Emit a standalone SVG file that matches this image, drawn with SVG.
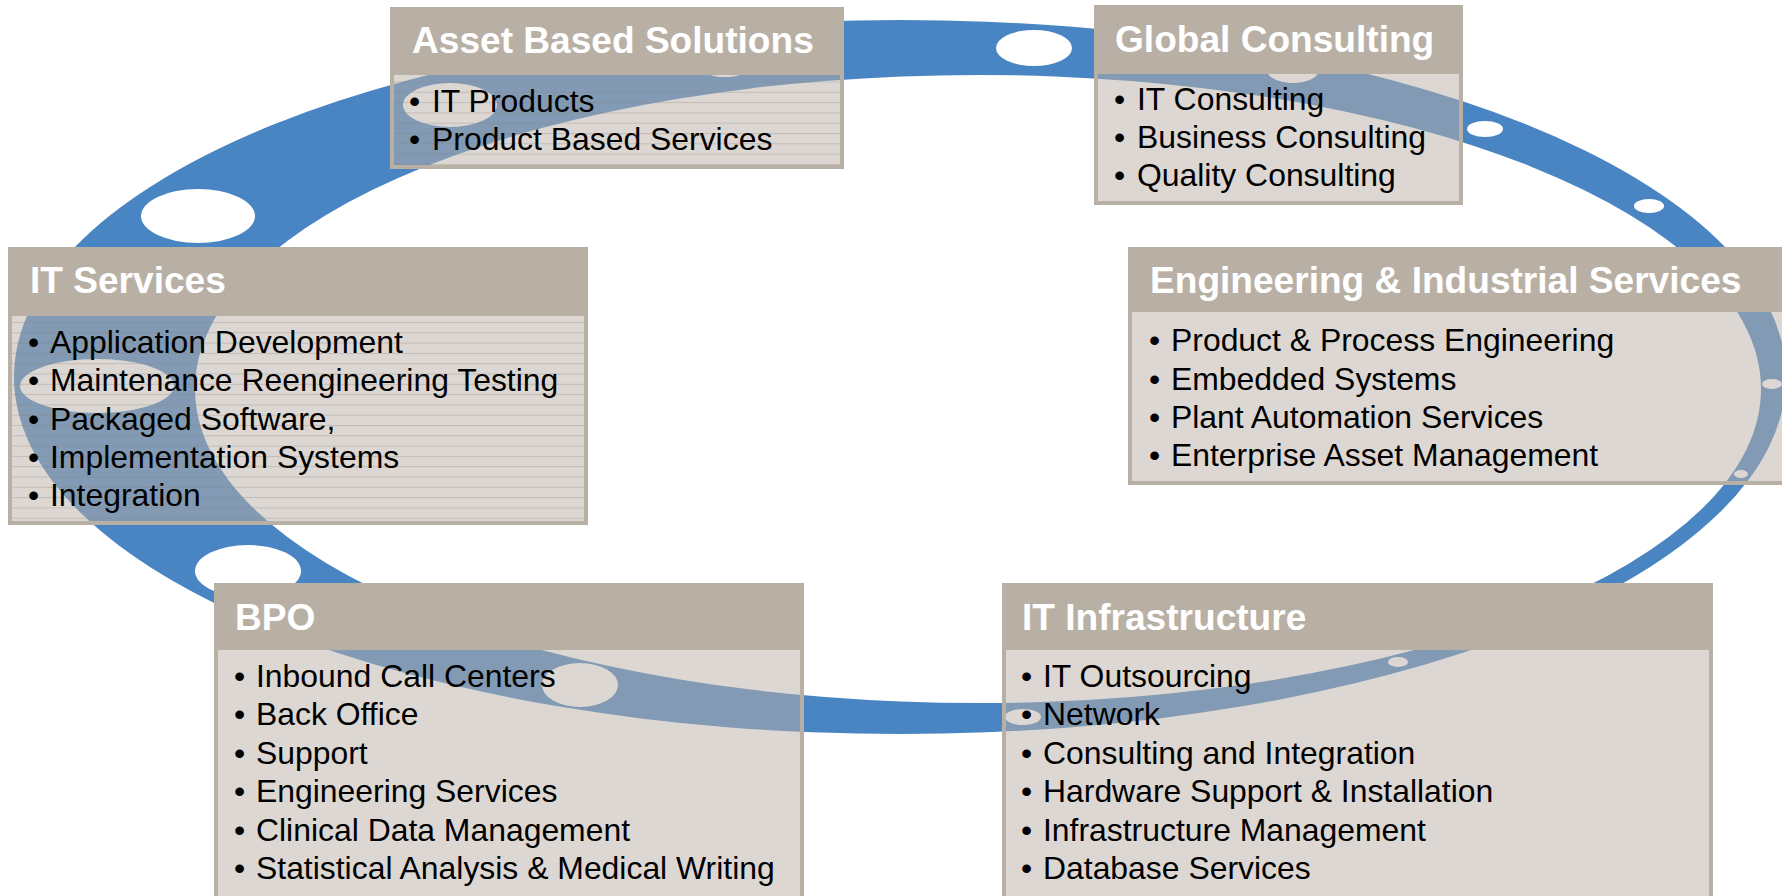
<svg xmlns="http://www.w3.org/2000/svg" width="1782" height="896" viewBox="0 0 1782 896">
<defs>
<style>
.hdr{fill:#b9b0a5}
.body{fill:#b9b0a5;fill-opacity:0.5;stroke:#b9b0a5;stroke-width:4}
.title{font-family:"Liberation Sans",Arial,sans-serif;font-weight:bold;font-size:37.1px;fill:#ffffff}
.item{font-family:"Liberation Sans",Arial,sans-serif;font-size:31.9px;fill:#000000}
.bead{fill:#ffffff}
</style>
<pattern id="linesA" patternUnits="userSpaceOnUse" x="0" y="81.5" width="20" height="10.3">
<line x1="0" y1="0.5" x2="20" y2="0.5" stroke="#8c8073" stroke-opacity="0.3" stroke-width="1"/>
</pattern>
<pattern id="linesB" patternUnits="userSpaceOnUse" x="0" y="322" width="20" height="10.3">
<line x1="0" y1="0.5" x2="20" y2="0.5" stroke="#8c8073" stroke-opacity="0.3" stroke-width="1"/>
</pattern>
</defs>
<rect width="1782" height="896" fill="#ffffff"/>
<g id="ring">
<path fill="#4a85c3" fill-rule="evenodd" d="M 14 377 A 886 357 0 1 0 1786 377 A 886 357 0 1 0 14 377 Z M 195 389 A 783 314 0 1 0 1761 389 A 783 314 0 1 0 195 389 Z"/>
<ellipse class="bead" cx="1034" cy="48" rx="38" ry="18"/>
<ellipse class="bead" cx="198" cy="216" rx="57" ry="27"/>
<ellipse class="bead" cx="450" cy="105" rx="47" ry="22"/>
<ellipse class="bead" cx="725" cy="66" rx="26" ry="11"/>
<ellipse class="bead" cx="1293" cy="70" rx="26" ry="13"/>
<ellipse class="bead" cx="1485" cy="129" rx="18" ry="8"/>
<ellipse class="bead" cx="1649" cy="206" rx="15" ry="7"/>
<ellipse class="bead" cx="1772" cy="384" rx="10" ry="5"/>
<ellipse class="bead" cx="1741" cy="474" rx="7" ry="4"/>
<ellipse class="bead" cx="248" cy="571" rx="53" ry="26"/>
<ellipse class="bead" cx="97" cy="386" rx="77" ry="27"/>
<ellipse class="bead" cx="580" cy="685" rx="38" ry="22"/>
<ellipse class="bead" cx="1023" cy="717" rx="18" ry="8"/>
<ellipse class="bead" cx="1398" cy="662" rx="10" ry="5"/>
</g>
<g id="asset-based-solutions">
<rect class="body" x="392" y="73" width="450" height="94"/>
<rect x="394" y="75" width="446" height="90" fill="url(#linesA)"/>
<rect class="hdr" x="390" y="7" width="454" height="66"/>
<text class="title" x="412" y="53">Asset Based Solutions</text>
<text class="item"><tspan x="409" y="112">•</tspan><tspan x="432" y="112">IT Products</tspan></text>
<text class="item"><tspan x="409" y="150">•</tspan><tspan x="432" y="150">Product Based Services</tspan></text>
</g>
<g id="global-consulting">
<rect class="body" x="1096" y="72" width="365" height="131"/>
<rect class="hdr" x="1094" y="5" width="369" height="67"/>
<text class="title" x="1115" y="52">Global Consulting</text>
<text class="item"><tspan x="1114" y="110">•</tspan><tspan x="1137" y="110">IT Consulting</tspan></text>
<text class="item"><tspan x="1114" y="148">•</tspan><tspan x="1137" y="148">Business Consulting</tspan></text>
<text class="item"><tspan x="1114" y="186">•</tspan><tspan x="1137" y="186">Quality Consulting</tspan></text>
</g>
<g id="it-services">
<rect class="body" x="10" y="314" width="576" height="209"/>
<rect x="12" y="316" width="572" height="205" fill="url(#linesB)"/>
<rect class="hdr" x="8" y="247" width="580" height="67"/>
<text class="title" x="30" y="293">IT Services</text>
<text class="item"><tspan x="28" y="353">•</tspan><tspan x="50" y="353">Application Development</tspan></text>
<text class="item"><tspan x="28" y="391">•</tspan><tspan x="50" y="391">Maintenance Reengineering Testing</tspan></text>
<text class="item"><tspan x="28" y="430">•</tspan><tspan x="50" y="430">Packaged Software,</tspan></text>
<text class="item"><tspan x="28" y="468">•</tspan><tspan x="50" y="468">Implementation Systems</tspan></text>
<text class="item"><tspan x="28" y="506">•</tspan><tspan x="50" y="506">Integration</tspan></text>
</g>
<g id="engineering-industrial-services">
<rect class="body" x="1130" y="310" width="660" height="173"/>
<rect class="hdr" x="1128" y="247" width="660" height="63"/>
<text class="title" x="1150" y="293">Engineering &amp; Industrial Services</text>
<text class="item"><tspan x="1149" y="351">•</tspan><tspan x="1171" y="351">Product &amp; Process Engineering</tspan></text>
<text class="item"><tspan x="1149" y="390">•</tspan><tspan x="1171" y="390">Embedded Systems</tspan></text>
<text class="item"><tspan x="1149" y="428">•</tspan><tspan x="1171" y="428">Plant Automation Services</tspan></text>
<text class="item"><tspan x="1149" y="466">•</tspan><tspan x="1171" y="466">Enterprise Asset Management</tspan></text>
</g>
<g id="bpo">
<rect class="body" x="216" y="648" width="586" height="260"/>
<rect class="hdr" x="214" y="583" width="590" height="65"/>
<text class="title" x="235" y="630">BPO</text>
<text class="item"><tspan x="234" y="687">•</tspan><tspan x="256" y="687">Inbound Call Centers</tspan></text>
<text class="item"><tspan x="234" y="725">•</tspan><tspan x="256" y="725">Back Office</tspan></text>
<text class="item"><tspan x="234" y="764">•</tspan><tspan x="256" y="764">Support</tspan></text>
<text class="item"><tspan x="234" y="802">•</tspan><tspan x="256" y="802">Engineering Services</tspan></text>
<text class="item"><tspan x="234" y="841">•</tspan><tspan x="256" y="841">Clinical Data Management</tspan></text>
<text class="item"><tspan x="234" y="879">•</tspan><tspan x="256" y="879">Statistical Analysis &amp; Medical Writing</tspan></text>
</g>
<g id="it-infrastructure">
<rect class="body" x="1004" y="648" width="707" height="260"/>
<rect class="hdr" x="1002" y="583" width="711" height="65"/>
<text class="title" x="1022" y="630">IT Infrastructure</text>
<text class="item"><tspan x="1021" y="687">•</tspan><tspan x="1043" y="687">IT Outsourcing</tspan></text>
<text class="item"><tspan x="1021" y="725">•</tspan><tspan x="1043" y="725">Network</tspan></text>
<text class="item"><tspan x="1021" y="764">•</tspan><tspan x="1043" y="764">Consulting and Integration</tspan></text>
<text class="item"><tspan x="1021" y="802">•</tspan><tspan x="1043" y="802">Hardware Support &amp; Installation</tspan></text>
<text class="item"><tspan x="1021" y="841">•</tspan><tspan x="1043" y="841">Infrastructure Management</tspan></text>
<text class="item"><tspan x="1021" y="879">•</tspan><tspan x="1043" y="879">Database Services</tspan></text>
</g>
</svg>
